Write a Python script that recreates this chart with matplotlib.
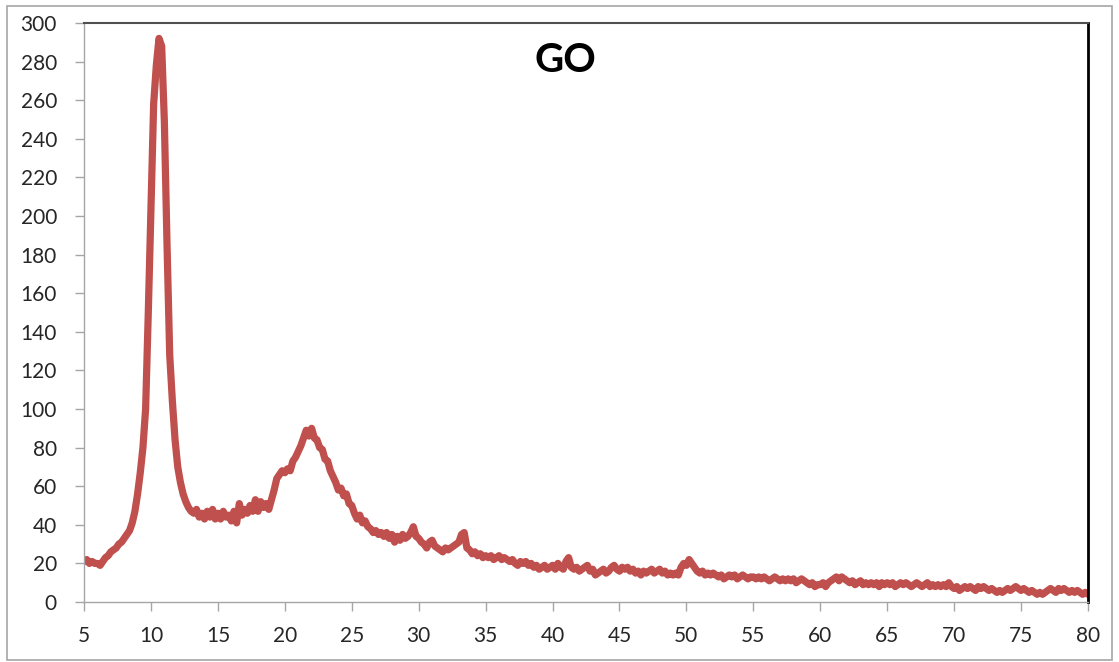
import matplotlib.pyplot as plt
import matplotlib.patches as patches
import numpy as np

# XRD scan of GO, 2-theta from 5 to 80 deg in 0.2 deg steps
scan_start = 5.0
scan_end = 80.0

counts_05_10 = [21, 22, 20, 21, 20, 20, 19, 21, 23, 24, 26, 27, 28, 30, 31,
                33, 35, 37, 41, 47, 56, 67, 80, 100, 150]
counts_10_15 = [205, 258, 278, 292, 288, 249, 185, 128, 104, 84, 70, 62, 56,
                52, 49, 47, 46, 48, 44, 46, 43, 47, 44, 48, 43]
counts_15_20 = [46, 43, 47, 44, 45, 42, 47, 41, 51, 45, 48, 46, 50, 47, 53,
                47, 52, 49, 51, 48, 53, 58, 64, 66, 68]
counts_20_25 = [67, 69, 68, 73, 75, 78, 81, 85, 89, 86, 90, 85, 84, 80, 79,
                74, 73, 68, 65, 62, 58, 59, 55, 56, 51]
counts_25_30 = [50, 46, 43, 45, 41, 42, 39, 38, 36, 37, 35, 36, 34, 36, 33,
                35, 31, 34, 32, 35, 33, 34, 36, 39, 34]
counts_30_35 = [33, 31, 30, 28, 31, 32, 29, 28, 27, 26, 28, 27, 28, 29, 30,
                31, 35, 36, 28, 27, 25, 26, 24, 25, 23]
counts_35_40 = [24, 23, 24, 22, 23, 24, 22, 23, 22, 21, 22, 20, 19, 21, 20,
                21, 19, 20, 18, 19, 17, 18, 19, 17, 18]
counts_40_45 = [19, 17, 20, 18, 17, 21, 23, 18, 17, 18, 16, 17, 18, 19, 16,
                17, 14, 15, 16, 17, 15, 16, 18, 19, 17]
counts_45_50 = [16, 18, 17, 18, 16, 17, 15, 16, 14, 16, 15, 16, 17, 15, 16,
                17, 15, 16, 14, 15, 14, 15, 14, 18, 20]
counts_50_55 = [19, 22, 20, 18, 16, 15, 16, 14, 15, 14, 15, 14, 13, 14, 12,
                13, 14, 13, 14, 12, 13, 14, 13, 12, 13]
counts_55_60 = [13, 12, 13, 12, 13, 12, 11, 12, 13, 12, 11, 12, 11, 12, 11,
                12, 10, 11, 12, 11, 10, 9, 10, 8, 9]
counts_60_65 = [9, 10, 8, 10, 11, 12, 13, 11, 13, 12, 11, 10, 11, 9, 10,
                11, 9, 10, 9, 10, 9, 10, 8, 10, 9]
counts_65_70 = [10, 9, 10, 8, 9, 10, 9, 10, 9, 8, 9, 10, 9, 8, 9,
                10, 8, 9, 8, 9, 8, 9, 8, 10, 8]
counts_70_75 = [7, 8, 6, 7, 8, 7, 8, 7, 6, 8, 7, 8, 7, 6, 7,
                6, 5, 6, 5, 6, 7, 6, 7, 8, 7]
counts_75_80 = [6, 7, 6, 5, 6, 5, 4, 5, 4, 5, 6, 7, 6, 5, 7,
                6, 7, 6, 5, 6, 5, 6, 5, 4, 5, 4]

x_ticks = list(range(5, 81, 5))
y_ticks = list(range(0, 301, 20))
title_text = 'GO'

counts = (counts_05_10 + counts_10_15 + counts_15_20 + counts_20_25 +
          counts_25_30 + counts_30_35 + counts_35_40 + counts_40_45 +
          counts_45_50 + counts_50_55 + counts_55_60 + counts_60_65 +
          counts_65_70 + counts_70_75 + counts_75_80)
two_theta = np.linspace(scan_start, scan_end, len(counts))

plt.rcParams['font.family'] = ['Lato', 'DejaVu Sans']

fig = plt.figure(figsize=(11.19, 6.62), dpi=100)
ax = fig.add_axes([0.0751, 0.0906, 0.8972, 0.8747])

ax.plot(two_theta, counts, color='#C0504D', linewidth=5.2,
        solid_joinstyle='round', solid_capstyle='round')

ax.set_xlim(scan_start, scan_end)
ax.set_ylim(0, 300)
ax.set_xticks(x_ticks)
ax.set_yticks(y_ticks)
ax.tick_params(axis='both', direction='out', length=6.5, width=1,
               color='#A6A6A6', labelsize=15, labelcolor='#262626')
ax.tick_params(axis='y', pad=13)
ax.tick_params(axis='x', pad=11)

for side in ['left', 'bottom']:
    ax.spines[side].set_color('#A6A6A6')
    ax.spines[side].set_linewidth(1)
ax.spines['top'].set_color('#505050')
ax.spines['top'].set_linewidth(1.5)
ax.spines['right'].set_color('black')
ax.spines['right'].set_linewidth(2)

ax.text(0.479, 0.936, title_text, transform=ax.transAxes, ha='center',
        va='center', fontsize=29, fontweight='bold', color='black')

# outer frame round the whole chart
frame = patches.Rectangle((7 / 1119, 2 / 662), 1105 / 1119, 654 / 662,
                          transform=fig.transFigure, fill=False,
                          edgecolor='#A6A6A6', linewidth=1.2)
fig.patches.append(frame)

fig.savefig('out.png', dpi=100)
